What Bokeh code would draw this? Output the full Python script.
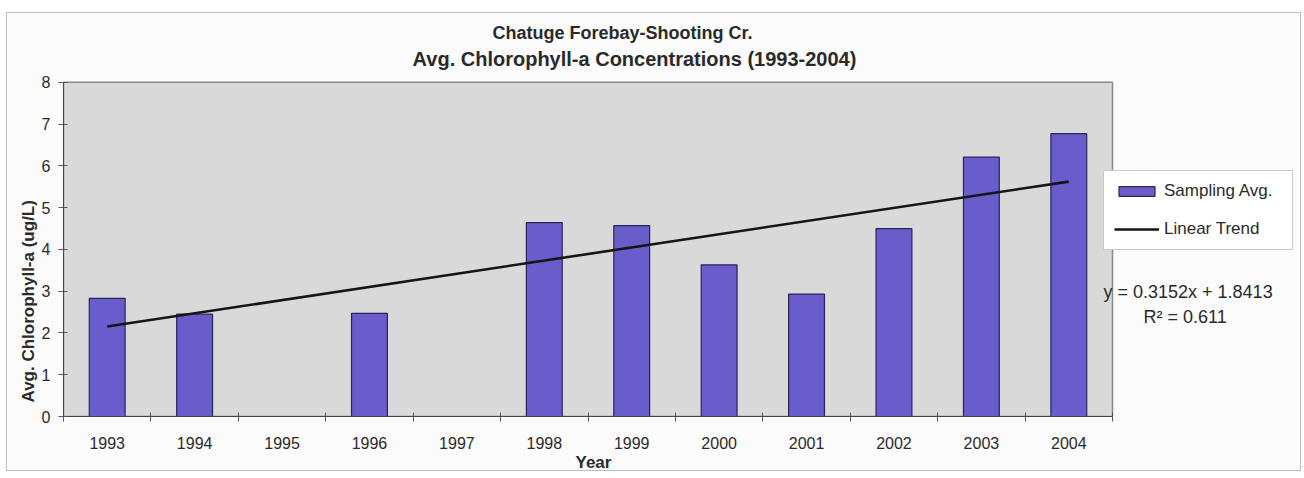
import math
from bokeh.plotting import figure
from bokeh.models import (Label, Legend, LegendItem, FixedTicker, ColumnDataSource, Title)
from bokeh.embed import file_html
from bokeh.resources import INLINE

# ---- data ----
years = ["1993", "1994", "1995", "1996", "1997", "1998",
         "1999", "2000", "2001", "2002", "2003", "2004"]
chl_avg = [2.83, 2.45, None, 2.47, None, 4.64, 4.57, 3.63, 2.93, 4.50, 6.21, 6.77]
trend_slope = 0.3152
trend_intercept = 1.8413
r_squared = 0.611
title_lines = ["Chatuge Forebay-Shooting Cr.",
               "Avg. Chlorophyll-a Concentrations (1993-2004)"]
y_ticks = [0, 1, 2, 3, 4, 5, 6, 7, 8]

FONT = "Liberation Sans"
TXT = "#2a2a2a"
# page geometry (px)
OX, OY = 7, 13                 # outer chart box top-left on page
CW, CH = 1293, 457             # canvas size
PL, PR, PT, PB = 63, 1112, 82, 417   # plot area on page
XMIN, XMAX, YMIN, YMAX = 0.5, 12.5, 0, 8
XPU = (PR - PL) / (XMAX - XMIN)
YPU = (PB - PT) / (YMAX - YMIN)

def dx(px):
    return XMIN + (px - PL) / XPU

def dy(py):
    return YMIN + (PB - py) / YPU

xs = [i + 1 for i, v in enumerate(chl_avg) if v is not None]
vals = [v for v in chl_avg if v is not None]
src = ColumnDataSource(dict(x=xs, top=vals))

p = figure(width=CW, height=CH, output_backend="svg", toolbar_location=None,
           x_range=(XMIN, dx(OX + CW)), y_range=(YMIN, dy(OY)),
           min_border_left=PL - OX, min_border_right=0,
           min_border_top=0, min_border_bottom=OY + CH - PB,
           margin=(OY, 1304 - OX - CW, 478 - OY - CH, OX),
           styles={"outline": "1.5px solid #bdbdbd"})
p.background_fill_color = "#fbfbfb"
p.border_fill_color = "#fbfbfb"
p.outline_line_color = None
p.xgrid.visible = False
p.ygrid.visible = False

# plot area (grey box)
p.quad(left=[XMIN], right=[XMAX], bottom=[YMIN], top=[YMAX],
       fill_color="#d9d9d9", line_color="#8a8a8a", line_width=1.5)

bars = p.vbar(x="x", top="top", width=0.41, bottom=0, source=src,
              fill_color="#6b5ccb", line_color="#2b2458", line_width=1.2)

tx = [1, 12]
ty = [trend_slope * t + trend_intercept for t in tx]
trend = p.line(tx, ty, line_color="#151515", line_width=2.6)

# axes
xa = p.xaxis[0]
xa.bounds = (XMIN, XMAX)
xa.ticker = FixedTicker(ticks=list(range(1, 13)),
                        minor_ticks=[i + 0.5 for i in range(0, 13)])
xa.major_label_overrides = {i + 1: y for i, y in enumerate(years)}
xa.major_tick_in = 0
xa.major_tick_out = 0
xa.minor_tick_in = 4
xa.minor_tick_out = 5
xa.minor_tick_line_color = "#555555"
xa.axis_line_color = "#444444"
xa.axis_line_width = 1.2
xa.major_label_standoff = 15
xa.major_label_text_font = FONT
xa.major_label_text_font_size = "16px"
xa.major_label_text_color = TXT

ya = p.yaxis[0]
ya.bounds = (YMIN, YMAX)
ya.ticker = FixedTicker(ticks=y_ticks)
ya.minor_tick_line_color = None
ya.major_tick_in = 4
ya.major_tick_out = 5
ya.major_tick_line_color = "#555555"
ya.axis_line_color = "#444444"
ya.major_label_standoff = 8
ya.major_label_text_font = FONT
ya.major_label_text_font_size = "16px"
ya.major_label_text_color = TXT

# axis titles
p.add_layout(Title(text="Year", align="left", offset=512, standoff=-2,
                   text_font=FONT, text_font_size="17px", text_font_style="bold",
                   text_color=TXT), "below")
p.add_layout(Title(text="Avg. Chlorophyll-a (ug/L)", align="left", offset=14, standoff=2,
                   text_font=FONT, text_font_size="17px", text_font_style="bold",
                   text_color=TXT), "left")

# chart title
p.add_layout(Label(x=dx(622), y=dy(33), text=title_lines[0], text_align="center",
                   text_baseline="middle", text_font=FONT, text_font_size="18px",
                   text_font_style="bold", text_color=TXT))
p.add_layout(Label(x=dx(634), y=dy(59), text=title_lines[1], text_align="center",
                   text_baseline="middle", text_font=FONT, text_font_size="20px",
                   text_font_style="bold", text_color=TXT))

# trend equation
p.add_layout(Label(x=dx(1103), y=dy(292), text=f"y = {trend_slope}x + {trend_intercept}",
                   text_align="left", text_baseline="middle", text_font=FONT,
                   text_font_size="18px", text_color=TXT))
p.add_layout(Label(x=dx(1143), y=dy(317), text=f"R\u00b2 = {r_squared}",
                   text_align="left", text_baseline="middle", text_font=FONT,
                   text_font_size="18px", text_color=TXT))

# legend
legend = Legend(items=[LegendItem(label="Sampling Avg.", renderers=[bars]),
                       LegendItem(label="Linear Trend", renderers=[trend])],
                location=(1103 - PL, PB - 251),
                glyph_width=45, glyph_height=12, label_height=20,
                spacing=18, padding=10, margin=0, label_standoff=5,
                label_width=118,
                label_text_font=FONT, label_text_font_size="17px",
                label_text_color=TXT,
                background_fill_color="#ffffff", background_fill_alpha=1.0,
                border_line_color="#9a9a9a", border_line_width=1.2)
p.add_layout(legend)

open("out.html", "w").write(file_html(p, INLINE))
